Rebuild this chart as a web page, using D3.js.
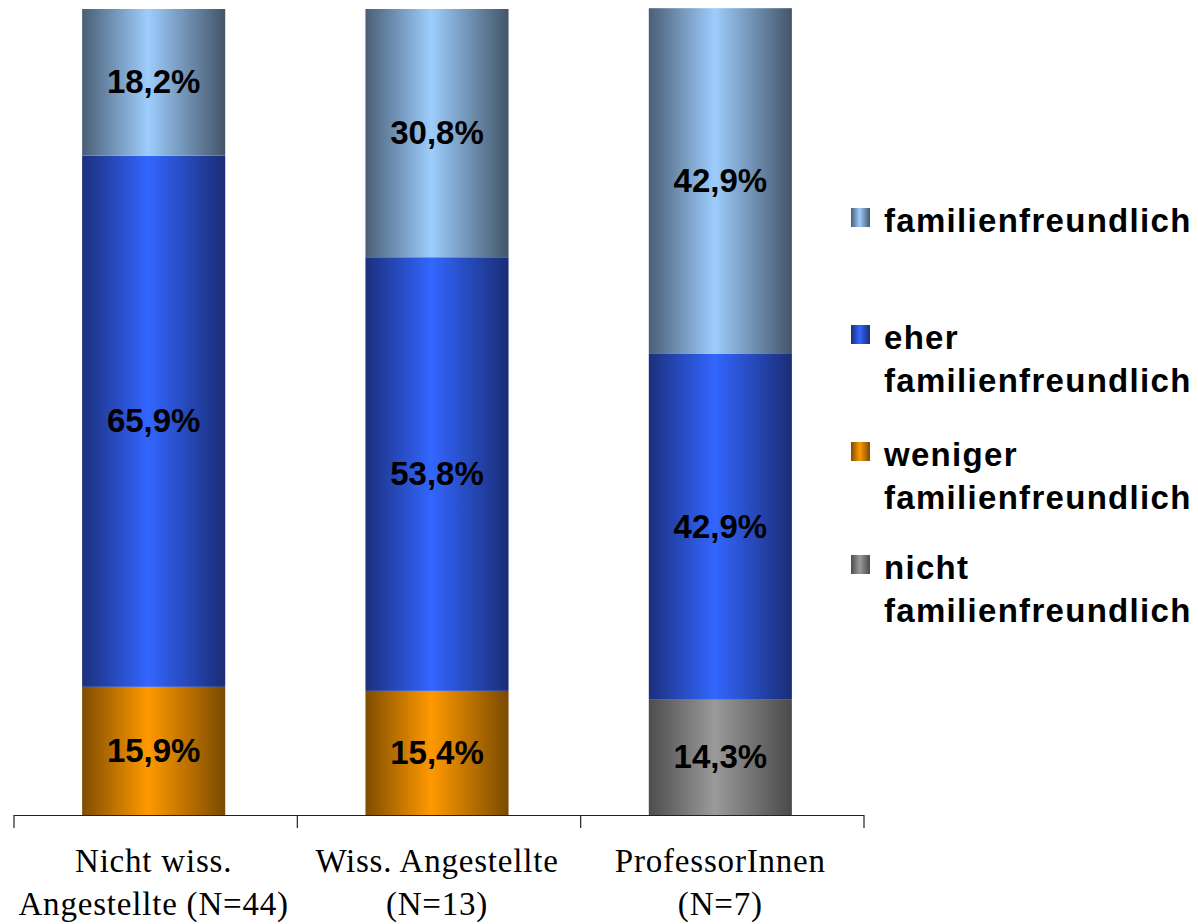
<!DOCTYPE html>
<html>
<head>
<meta charset="utf-8">
<script src="https://cdn.jsdelivr.net/npm/d3@7"></script>
<style>
  body { margin: 0; background: #fff; }
  svg { display: block; }
</style>
</head>
<body>
<script>
// categories (two lines each)
const categories = ['Nicht wiss. Angestellte (N=44)', 'Wiss. Angestellte (N=13)', 'ProfessorInnen (N=7)'];
const categoryLines = [
    ['Nicht wiss.', 'Angestellte (N=44)'],
    ['Wiss. Angestellte', '(N=13)'],
    ['ProfessorInnen', '(N=7)']
];

// series, bottom to top of the stack
const nichtValues = [0, 0, 14.3];
const wenigerValues = [15.9, 15.4, 0];
const eherValues = [65.9, 53.8, 42.9];
const familienValues = [18.2, 30.8, 42.9];

const seriesKeys = ['nicht', 'weniger', 'eher', 'familien'];
const legendLabels = {
    familien: ['familienfreundlich'],
    eher: ['eher', 'familienfreundlich'],
    weniger: ['weniger', 'familienfreundlich'],
    nicht: ['nicht', 'familienfreundlich']
};
const legendOrder = ['familien', 'eher', 'weniger', 'nicht'];

const colors = {
    familien: {edge: '#4a5f76', mid: '#9dcdfd', edge2: '#435568'},
    eher:     {edge: '#1b2f7c', mid: '#3366ff', edge2: '#1a2d75'},
    weniger:  {edge: '#7f4d00', mid: '#ff9900', edge2: '#7a4a00'},
    nicht:    {edge: '#4d4d4d', mid: '#9a9a9a', edge2: '#4a4a4a'}
};

const table = categories.map((c, i) => ({
    category: c,
    nicht: nichtValues[i],
    weniger: wenigerValues[i],
    eher: eherValues[i],
    familien: familienValues[i]
}));

const width = 1198, height = 924;

const svg = d3.select('body').append('svg')
    .attr('width', width)
    .attr('height', height);

const defs = svg.append('defs');
seriesKeys.forEach(k => {
    const g = defs.append('linearGradient')
        .attr('id', 'grad-' + k)
        .attr('x1', '0%').attr('x2', '100%')
        .attr('y1', '0%').attr('y2', '0%');
    g.append('stop').attr('offset', '0%').attr('stop-color', colors[k].edge);
    g.append('stop').attr('offset', '46%').attr('stop-color', colors[k].mid);
    g.append('stop').attr('offset', '100%').attr('stop-color', colors[k].edge2);
});

const x = d3.scaleBand()
    .domain(categories)
    .range([14, 864])
    .paddingInner(0.495)
    .paddingOuter(0.2475);

const y = d3.scaleLinear()
    .domain([0, 100])
    .range([815, 9]);

const stacked = d3.stack().keys(seriesKeys)(table);

const layers = svg.selectAll('g.layer')
    .data(stacked)
    .enter().append('g')
    .attr('class', 'layer')
    .attr('fill', d => `url(#grad-${d.key})`);

layers.selectAll('rect')
    .data(d => d.filter(s => s[1] - s[0] > 0))
    .enter().append('rect')
    .attr('x', d => x(d.data.category) - 2)
    .attr('y', d => y(d[1]))
    .attr('width', x.bandwidth())
    .attr('height', d => y(d[0]) - y(d[1]));

// value labels
layers.selectAll('text')
    .data(d => d.filter(s => s[1] - s[0] > 0))
    .enter().append('text')
    .attr('x', d => x(d.data.category) - 2 + x.bandwidth() / 2)
    .attr('y', d => (y(d[0]) + y(d[1])) / 2)
    .attr('dy', '0.33em')
    .attr('text-anchor', 'middle')
    .attr('fill', '#000')
    .style('font-family', '"Liberation Sans", Arial, sans-serif')
    .style('font-weight', 'bold')
    .style('font-size', '33px')
    .text(d => d3.format('.1f')(d[1] - d[0]).replace('.', ',') + '%');

// category axis, ticks at band boundaries
const axis = svg.append('g');
const [r0, r1] = x.range();
axis.append('line')
    .attr('x1', r0).attr('x2', r1)
    .attr('y1', 815.5).attr('y2', 815.5)
    .attr('stroke', '#222').attr('stroke-width', 1.2);
const tickXs = d3.range(categories.length + 1).map(i => r0 + i * x.step());
axis.selectAll('line.tick')
    .data(tickXs)
    .enter().append('line')
    .attr('class', 'tick')
    .attr('x1', d => d).attr('x2', d => d)
    .attr('y1', 815).attr('y2', 828)
    .attr('stroke', '#222').attr('stroke-width', 1.2);

axis.selectAll('text')
    .data(categories)
    .enter().append('text')
    .attr('x', d => x(d) - 2 + x.bandwidth() / 2)
    .attr('y', 872)
    .attr('text-anchor', 'middle')
    .style('font-family', '"Liberation Serif", "Times New Roman", serif')
    .style('font-size', '33px')
    .style('letter-spacing', '0.8px')
    .selectAll('tspan')
    .data((d, i) => categoryLines[i])
    .enter().append('tspan')
    .attr('x', function() { return d3.select(this.parentNode).attr('x'); })
    .attr('dy', (d, i) => i === 0 ? 0 : 43)
    .text(d => d);

// legend
const legendBaselines = [232, 349, 466, 579];
const legend = svg.append('g');
legendOrder.forEach((k, i) => {
    const base = legendBaselines[i];
    legend.append('rect')
        .attr('x', 851).attr('y', base - 24)
        .attr('width', 19).attr('height', 19)
        .attr('fill', `url(#grad-${k})`);
    const t = legend.append('text')
        .attr('x', 884).attr('y', base)
        .style('font-family', '"Liberation Sans", Arial, sans-serif')
        .style('font-weight', 'bold')
        .style('font-size', '33px')
        .style('letter-spacing', '1.3px');
    legendLabels[k].forEach((line, j) => {
        t.append('tspan')
            .attr('x', 884)
            .attr('dy', j === 0 ? 0 : 42.5)
            .text(line);
    });
});
</script>
</body>
</html>
